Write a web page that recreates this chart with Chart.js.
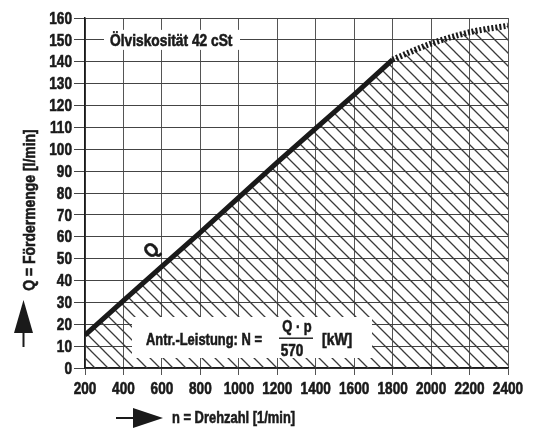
<!DOCTYPE html>
<html>
<head>
<meta charset="utf-8">
<script src="https://cdn.jsdelivr.net/npm/chart.js@4.4.1/dist/chart.umd.min.js"></script>
<style>
  html, body { margin: 0; padding: 0; background: #fff; }
  #wrap { width: 544px; height: 430px; position: relative; }
</style>
</head>
<body>
<div id="wrap"><canvas id="chart" width="544" height="430"></canvas></div>
<script>
// Pump curve Q over speed n (oil viscosity 42 cSt)
const rpmSolid = [200, 400, 600, 800, 1000, 1200, 1400, 1600, 1800];
const flowSolid = [15, 30.8, 46.5, 62, 78, 94, 109.5, 125, 141];
const rpmDotted = [1800, 2000, 2200, 2400];
const flowDotted = [141, 148.3, 153.5, 156.5];
const xTicks = [200, 400, 600, 800, 1000, 1200, 1400, 1600, 1800, 2000, 2200, 2400];
const yTicks = [0, 10, 20, 30, 40, 50, 60, 70, 80, 90, 100, 110, 120, 130, 140, 150, 160];

const FONT = '"Liberation Sans", Arial, sans-serif';
const INK = '#1a1a1a';

// diagonal hatch pattern (top-left to bottom-right)
function makeHatch() {
    const s = 13;
    const c = document.createElement('canvas');
    c.width = s; c.height = s;
    const g = c.getContext('2d');
    g.strokeStyle = '#3a3a3a';
    g.lineWidth = 1.3;
    g.beginPath();
    g.moveTo(-1, -1); g.lineTo(s + 1, s + 1);
    g.moveTo(-1, s - 1); g.lineTo(1, s + 1);
    g.moveTo(s - 1, -1); g.lineTo(s + 1, 1);
    g.stroke();
    return g.createPattern(c, 'repeat');
}
const hatch = makeHatch();

function toXY(xs, ys) {
    return xs.map((x, i) => ({ x: x, y: ys[i] }));
}

// condensed heavy text: squeeze Liberation Sans Bold horizontally, add a thin stroke
function txt(ctx, s, x, y, align, size, sx) {
    ctx.save();
    ctx.translate(x, y);
    ctx.scale(sx || 0.8, 1);
    ctx.font = 'bold ' + size + 'px ' + FONT;
    ctx.textAlign = align;
    ctx.textBaseline = 'middle';
    ctx.fillStyle = INK;
    ctx.strokeStyle = INK;
    ctx.lineWidth = 0.6;
    ctx.fillText(s, 0, 0);
    ctx.strokeText(s, 0, 0);
    ctx.restore();
}

// tick labels, white label boxes, arrows and axis titles
const annotations = {
    id: 'annotations',
    afterDatasetsDraw(chart) {
        const ctx = chart.ctx;
        const xs = chart.scales.x, ys = chart.scales.y;
        ctx.save();

        xTicks.forEach(v => txt(ctx, String(v), xs.getPixelForValue(v), 389, 'center', 17, 0.8));
        yTicks.forEach(v => txt(ctx, String(v), 72, ys.getPixelForValue(v) + 1, 'right', 17, 0.8));

        // viscosity label on the 150 line
        let cy = ys.getPixelForValue(150);
        ctx.fillStyle = '#fff';
        ctx.fillRect(104, cy - 10, 136, 20);
        txt(ctx, 'Ölviskosität 42 cSt', 110, cy + 1, 'left', 17, 0.81);

        // power formula box
        ctx.fillStyle = '#fff';
        ctx.fillRect(132, 317, 240, 41);
        txt(ctx, 'Antr.-Leistung: N =', 146, 340, 'left', 17, 0.76);
        txt(ctx, 'Q \u00b7 p', 297, 327, 'center', 17, 0.76);
        txt(ctx, '570', 292, 351, 'center', 17, 0.8);
        ctx.fillStyle = INK;
        ctx.fillRect(279, 337.5, 34, 1.4);
        txt(ctx, '[kW]', 322, 340, 'left', 17, 0.82);

        // Q label along the curve
        ctx.save();
        ctx.translate(152, 251);
        ctx.rotate(-0.78);
        txt(ctx, 'Q', 0, 0, 'center', 20, 0.85);
        ctx.restore();

        // y axis title and arrow
        ctx.save();
        ctx.translate(30, 210);
        ctx.rotate(-Math.PI / 2);
        txt(ctx, 'Q = Fördermenge [l/min]', 0, 0, 'center', 17, 0.82);
        ctx.restore();
        ctx.fillStyle = INK;
        ctx.beginPath();
        ctx.moveTo(23.5, 300); ctx.lineTo(14, 333); ctx.lineTo(33, 333); ctx.closePath();
        ctx.fill();
        ctx.fillRect(22.5, 330, 2, 17);

        // x axis title and arrow
        ctx.beginPath();
        ctx.moveTo(163, 418); ctx.lineTo(133, 408); ctx.lineTo(133, 428); ctx.closePath();
        ctx.fill();
        ctx.fillRect(116, 417, 20, 2);
        txt(ctx, 'n = Drehzahl [1/min]', 172, 418, 'left', 17, 0.76);

        ctx.restore();
    }
};

new Chart(document.getElementById('chart'), {
    type: 'line',
    data: {
        datasets: [{
            data: toXY(rpmSolid, flowSolid),
            borderColor: INK,
            borderWidth: 5,
            pointRadius: 0,
            tension: 0,
            fill: 'origin',
            backgroundColor: hatch
        }, {
            data: toXY(rpmDotted, flowDotted),
            borderColor: INK,
            borderWidth: 6,
            borderDash: [2, 2],
            pointRadius: 0,
            tension: 0.3,
            fill: 'origin',
            backgroundColor: hatch
        }]
    },
    options: {
        responsive: false,
        animation: false,
        devicePixelRatio: 1,
        layout: { padding: { top: 18, right: 36, left: 0, bottom: 0 } },
        plugins: { legend: { display: false }, tooltip: { enabled: false } },
        scales: {
            x: {
                type: 'linear',
                min: 200, max: 2400,
                afterBuildTicks(scale) { scale.ticks = xTicks.map(v => ({ value: v })); },
                afterFit(scale) { scale.height = 62; },
                grid: { color: '#555', lineWidth: 1, tickLength: 7 },
                border: { color: INK, width: 1.5 },
                ticks: {
                    color: 'rgba(0,0,0,0)',
                    padding: 4,
                    maxRotation: 0,
                    autoSkip: false,
                    font: { family: FONT, size: 12, weight: 'bold' }
                }
            },
            y: {
                min: 0, max: 160,
                afterBuildTicks(scale) { scale.ticks = yTicks.map(v => ({ value: v })); },
                afterFit(scale) { scale.width = 85; },
                grid: { color: '#444', lineWidth: 1, tickLength: 11 },
                border: { color: INK, width: 1.5 },
                ticks: {
                    color: 'rgba(0,0,0,0)',
                    padding: 2,
                    autoSkip: false,
                    font: { family: FONT, size: 12, weight: 'bold' }
                }
            }
        }
    },
    plugins: [annotations]
});
</script>
</body>
</html>
